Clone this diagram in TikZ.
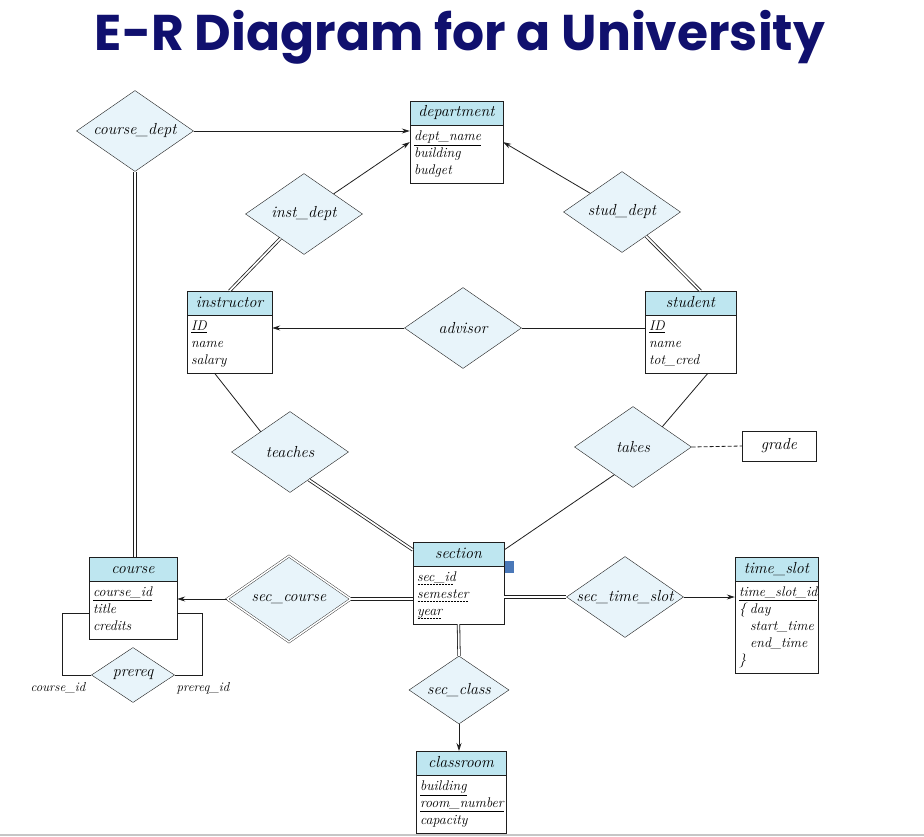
\documentclass[tikz,border=0pt]{standalone}
\usepackage{fontspec}
\usepackage{graphicx}
\usetikzlibrary{shapes.geometric,shapes.multipart,arrows.meta,calc}
\newfontfamily\titlefont{Poppins}
\definecolor{headblue}{RGB}{190,230,240}
\definecolor{relblue}{RGB}{232,244,250}
\definecolor{titleblue}{RGB}{16,16,110}
\definecolor{edgegray}{RGB}{30,30,30}
\definecolor{handleblue}{RGB}{74,120,184}
\newcommand\headfont{\fontsize{16}{18}\selectfont\itshape}
\newcommand\attrfont{\fontsize{14}{17}\selectfont\itshape}
\newcommand\relfont{\fontsize{16}{18}\selectfont\itshape}
\newcommand\rolefont{\fontsize{13}{15}\selectfont\itshape}
% centred heading of an entity box
\newcommand\entityhead[1]{\headfont\strut\hfill#1\hfill\null}
% dashed underline for the discriminator
\newcommand\dashund[1]{\leavevmode\setbox0\hbox{#1}%
  \rlap{\raisebox{-3pt}{\hbox to\wd0{\leaders\hbox to 3pt{\hss\rule{2pt}{0.6pt}\hss}\hfill}}}\box0}
\begin{document}
\begin{tikzpicture}[
      x=1pt, y=-1pt,
      >={Stealth[length=8pt,width=5pt]},
      entity/.style={rectangle split, rectangle split parts=2, draw=edgegray,
        rectangle split part fill={headblue,white}, inner xsep=4pt, inner ysep=3pt,
        align=left, font=\attrfont, anchor=north},
      relation/.style={diamond, aspect=1.45, draw=edgegray, fill=relblue, inner sep=0pt,
        font=\relfont, minimum width=117pt, minimum height=81pt},
      weakrel/.style={relation, double, double distance=1.6pt,
        minimum width=124pt, minimum height=86pt},
      attribute/.style={draw=edgegray, fill=white, font=\relfont,
        minimum width=74pt, minimum height=30pt},
      role/.style={font=\rolefont, inner sep=0pt},
      link/.style={draw=edgegray, line width=0.8pt},
      total/.style={link, double, double distance=1.7pt},
      partial/.style={link, dash pattern=on 4pt off 2pt}
    ]
    \useasboundingbox (0,0) rectangle (924,837);
    % Draw the title.
    \node[inner sep=0pt, text=titleblue] (title) at (460,37)
      {\resizebox*{730pt}{54pt}{\titlefont\bfseries E-R Diagram for a University}};
    % Draw the entity sets.
    \node[entity, text width=85pt] (department) at (456.5,101)
      {\entityhead{department}\nodepart{two}\strut\underline{dept\_name}\\ building\\ budget\strut};
    \node[entity, text width=77pt] (instructor) at (229.5,291)
      {\entityhead{instructor}\nodepart{two}\strut\underline{ID}\\ name\\ salary\strut};
    \node[entity, text width=83pt] (student) at (690.5,291)
      {\entityhead{student}\nodepart{two}\strut\underline{ID}\\ name\\ tot\_cred\strut};
    \node[entity, text width=83pt] (section) at (458.5,542)
      {\entityhead{section}\nodepart{two}\strut\dashund{sec\_id}\\ \dashund{semester}\\ \dashund{year}\strut};
    \node[entity, text width=80pt] (course) at (133,557)
      {\entityhead{course}\nodepart{two}\strut\underline{course\_id}\\ title\\ credits\strut};
    \node[entity, text width=75pt] (timeslot) at (776.5,557)
      {\entityhead{time\_slot}\nodepart{two}\strut\underline{time\_slot\_id}\\ \makebox[11pt][l]{\{}day\\
       \hspace*{11pt}start\_time\\ \hspace*{11pt}end\_time\\ \}\strut};
    \node[entity, text width=82pt] (classroom) at (461,751)
      {\entityhead{classroom}\nodepart{two}\strut\underline{building}\\ \underline{room\_number}\\ capacity\strut};
    \node[attribute] (grade) at (779,446) {grade};
    % Draw the relationship sets.
    \node[relation] (coursedept) at (135,131) {course\_dept};
    \node[relation] (instdept) at (304,214) {inst\_dept};
    \node[relation] (studdept) at (622,212) {stud\_dept};
    \node[relation] (advisor) at (463,328) {advisor};
    \node[relation] (teaches) at (290,452) {teaches};
    \node[relation] (takes) at (633,447) {takes};
    \node[weakrel] (seccourse) at (289,599) {sec\_course};
    \node[relation] (sectime) at (625,597) {sec\_time\_slot};
    \node[relation, minimum width=100pt, minimum height=68pt] (secclass) at (459,690) {sec\_class};
    \node[relation, minimum width=83pt, minimum height=55pt] (prereq) at (133,675) {prereq};
    % Draw the links to department.
    \draw[link,->] (coursedept.east) -- (coursedept.east -| department.west);
    \draw[link,->] (instdept) -- (department.west);
    \draw[link,->] (studdept) -- (department.east);
    \draw[total] (coursedept.south) -- (coursedept.south |- course.north);
    \draw[total] (instdept) -- (instructor.north);
    \draw[total] (studdept) -- ($(student.north)+(10,0)$);
    % Draw the links round instructor and student.
    \draw[link,->] (advisor.west) -- (advisor.west -| instructor.east);
    \draw[link] (advisor.east) -- (advisor.east -| student.west);
    \draw[link] (instructor.250) -- (teaches.north west);
    \draw[link] (student.293) -- (takes.north east);
    \draw[partial] (takes.east) -- (grade.west);
    \draw[total] (teaches.304) -- (section.144);
    \draw[link] (takes.236) -- (section.36);
    % Draw the links round section.
    \draw[link,->] (seccourse.west) -- (seccourse.west -| course.east);
    \draw[total] (seccourse.east) -- (seccourse.east -| section.west);
    \draw[total] (sectime.west -| section.east) -- (sectime.west);
    \draw[link,->] (sectime.east) -- (sectime.east -| timeslot.west);
    \draw[total] (section.south) -- (secclass.north);
    \draw[link,->] (secclass.south) -- (secclass.south |- classroom.north);
    % Draw the prereq loop.
    \draw[link] (prereq.west) -- ++(-29,0) |- ($(course.west)+(0,15)$);
    \draw[link] (prereq.east) -- ++(28,0) |- ($(course.east)+(0,15)$);
    \node[role] (cid) at (58,688) {course\_id};
    \node[role] (pid) at (203,688) {prereq\_id};
    % Draw the handle and the slide edge.
    \fill[handleblue] (505,561) rectangle (514,573);
    \draw[gray!45, line width=2pt] (0,835) -- (924,835);
\end{tikzpicture}
\end{document}
